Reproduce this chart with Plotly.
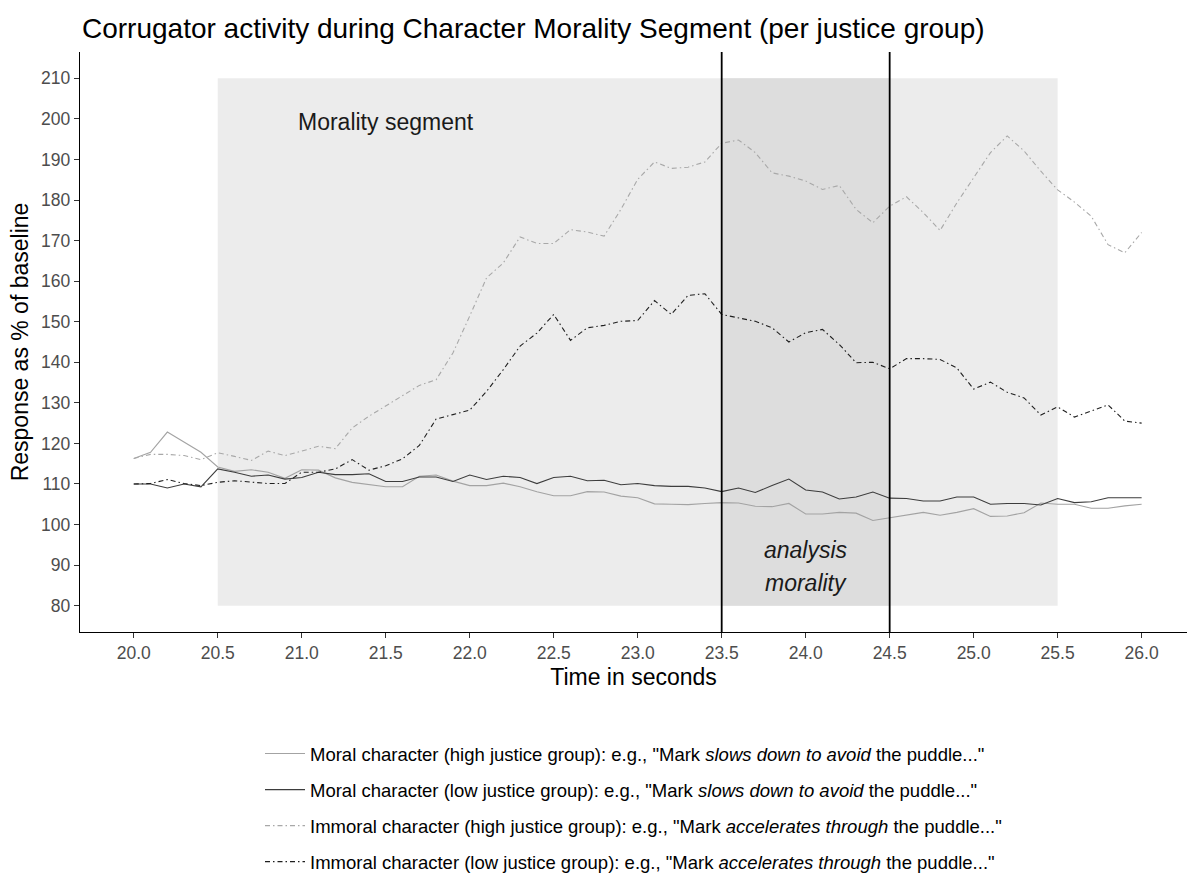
import plotly.graph_objects as go

# Time axis (seconds), sampled every 0.1 s
time_s = [round(20.0 + 0.1 * i, 1) for i in range(61)]

moral_high = [
    116.3, 117.8, 122.8, 120.3, 117.8, 114.2, 113.1, 113.5, 112.9, 111.4,
    113.5, 113.4, 111.5, 110.4, 109.9, 109.3, 109.3, 111.9, 112.2, 110.7,
    109.6, 109.6, 110.2, 109.3, 108.1, 107.1, 107.1, 108.1, 108.0, 107.0,
    106.6, 105.1, 105.0, 104.9, 105.2, 105.4, 105.3, 104.5, 104.4, 105.2,
    102.6, 102.6, 103.0, 102.8, 101.0, 101.7, 102.4, 103.0, 102.3, 103.0,
    103.9, 102.0, 102.1, 102.9, 105.3, 105.0, 105.0, 104.0, 104.0, 104.6,
    105.0,
]

moral_low = [
    110.0, 110.0, 109.0, 110.0, 109.3, 113.7, 112.9, 111.9, 112.2, 111.2,
    111.6, 112.9, 112.3, 112.3, 112.5, 110.6, 110.6, 111.7, 111.7, 110.6,
    112.2, 111.1, 111.9, 111.6, 110.1, 111.6, 111.9, 110.8, 110.9, 109.8,
    110.1, 109.6, 109.4, 109.4, 109.0, 108.1, 109.0, 107.9, 109.6, 111.2,
    108.5, 108.0, 106.3, 106.8, 108.0, 106.5, 106.4, 105.8, 105.8, 106.8,
    106.8, 105.0, 105.2, 105.2, 104.8, 106.4, 105.4, 105.6, 106.6, 106.6,
    106.6,
]

immoral_high = [
    116.3, 117.3, 117.3, 117.0, 116.0, 117.7, 116.8, 115.8, 118.1, 117.0,
    118.1, 119.3, 118.7, 123.8, 126.7, 129.2, 131.6, 134.3, 135.7, 142.3,
    151.4, 160.8, 164.5, 170.9, 169.3, 169.3, 172.7, 172.1, 171.1, 177.7,
    185.1, 189.4, 187.8, 188.1, 189.4, 194.0, 194.8, 191.7, 186.7, 185.9,
    184.7, 182.6, 183.6, 177.7, 174.4, 178.5, 180.8, 176.9, 172.5, 179.3,
    185.5, 191.7, 195.8, 192.1, 187.1, 182.5, 179.5, 176.0, 169.0, 167.0,
    172.0,
]

immoral_low = [
    110.0, 110.1, 111.1, 110.1, 109.6, 110.4, 110.8, 110.4, 110.1, 110.1,
    112.9, 112.9, 113.7, 116.0, 113.4, 114.5, 116.2, 119.5, 126.0, 127.1,
    128.2, 132.8, 138.2, 144.0, 147.2, 151.8, 145.4, 148.5, 149.1, 150.1,
    150.3, 155.2, 151.8, 156.5, 156.9, 151.8, 151.0, 150.1, 148.5, 145.0,
    147.3, 148.1, 144.4, 139.9, 140.0, 138.4, 140.9, 140.9, 140.7, 138.6,
    133.4, 135.1, 132.6, 131.2, 127.0, 129.0, 126.5, 128.0, 129.5, 125.5,
    125.0,
]

series_names = [
    'Moral character (high justice group): e.g., "Mark <i>slows down to avoid</i> the puddle..."',
    'Moral character (low justice group): e.g., "Mark <i>slows down to avoid</i> the puddle..."',
    'Immoral character (high justice group): e.g., "Mark <i>accelerates through</i> the puddle..."',
    'Immoral character (low justice group): e.g., "Mark <i>accelerates through</i> the puddle..."',
]

x_ticks = [20.0, 20.5, 21.0, 21.5, 22.0, 22.5, 23.0, 23.5, 24.0, 24.5, 25.0, 25.5, 26.0]
y_ticks = list(range(80, 211, 10))

segment_window = (20.5, 25.5)
analysis_window = (23.5, 24.5)
shade_range = (80, 210)

FONT = "Liberation Sans, Arial, sans-serif"
DASHDOT = "5px,3px,1.5px,3px"

fig = go.Figure()

styles = [
    dict(color="#a3a3a3", width=1.1, dash="solid"),
    dict(color="#3d3d3d", width=1.1, dash="solid"),
    dict(color="#a8a8a8", width=1.1, dash=DASHDOT),
    dict(color="#1f1f1f", width=1.1, dash=DASHDOT),
]

for i, (name, vals) in enumerate(zip(series_names, [moral_high, moral_low, immoral_high, immoral_low])):
    fig.add_trace(go.Scatter(
        x=time_s, y=vals, mode="lines", name=name,
        line=styles[i], legendgroup=f"g{i}",
    ))

# Shaded segments
fig.add_shape(type="rect", xref="x", yref="y",
              x0=segment_window[0], x1=segment_window[1],
              y0=shade_range[0], y1=shade_range[1],
              fillcolor="#ececec", line_width=0, layer="below")
fig.add_shape(type="rect", xref="x", yref="y",
              x0=analysis_window[0], x1=analysis_window[1],
              y0=shade_range[0], y1=shade_range[1],
              fillcolor="#dddddd", line_width=0, layer="below")
# Analysis window borders
for xv in analysis_window:
    fig.add_shape(type="line", xref="x", yref="paper", x0=xv, x1=xv, y0=0, y1=1,
                  line=dict(color="black", width=1.8), layer="above")

ANN = dict(family=FONT, size=23, color="#1a1a1a")
fig.add_annotation(x=21.5, y=199.3, xref="x", yref="y", text="Morality segment",
                   showarrow=False, font=ANN)
fig.add_annotation(x=24.0, y=93.6, xref="x", yref="y", text="<i>analysis</i>",
                   showarrow=False, font=ANN)
fig.add_annotation(x=24.0, y=85.6, xref="x", yref="y", text="<i>morality</i>",
                   showarrow=False, font=ANN)

fig.update_layout(
    width=1188, height=874,
    margin=dict(l=80, r=1, t=52, b=242, autoexpand=False),
    paper_bgcolor="white", plot_bgcolor="white",
    font=dict(family=FONT, color="black"),
    title=dict(text="Corrugator activity during Character Morality Segment (per justice group)",
               x=82 / 1188, xanchor="left", y=1 - 28 / 874, yanchor="middle",
               font=dict(family=FONT, size=28, color="black")),
    showlegend=True,
    legend=dict(orientation="v", x=(260 - 80) / 1107, xanchor="left",
                yref="container", y=1 - 735 / 874, yanchor="top",
                font=dict(family=FONT, size=18.5, color="black"),
                itemwidth=40,
                tracegroupgap=9, bgcolor="rgba(0,0,0,0)"),
    xaxis=dict(range=[19.68, 26.27], tickvals=x_ticks,
               ticktext=[f"{v:.1f}" for v in x_ticks],
               showgrid=False, zeroline=False,
               showline=True, linecolor="black", linewidth=1.4,
               ticks="outside", ticklen=5, tickcolor="#333333", tickwidth=1.2,
               tickfont=dict(family=FONT, size=17.5, color="#4d4d4d"),
               title=dict(text="Time in seconds", font=dict(family=FONT, size=23, color="black"),
                          standoff=6)),
    yaxis=dict(range=[73.5, 216.5], tickvals=y_ticks,
               showgrid=False, zeroline=False,
               showline=True, linecolor="black", linewidth=1.4,
               ticks="outside", ticklen=5, tickcolor="#333333", tickwidth=1.2,
               tickfont=dict(family=FONT, size=17.5, color="#4d4d4d"),
               title=dict(text="Response as % of baseline", font=dict(family=FONT, size=23, color="black"),
                          standoff=6)),
)

fig.write_html("out.html")
